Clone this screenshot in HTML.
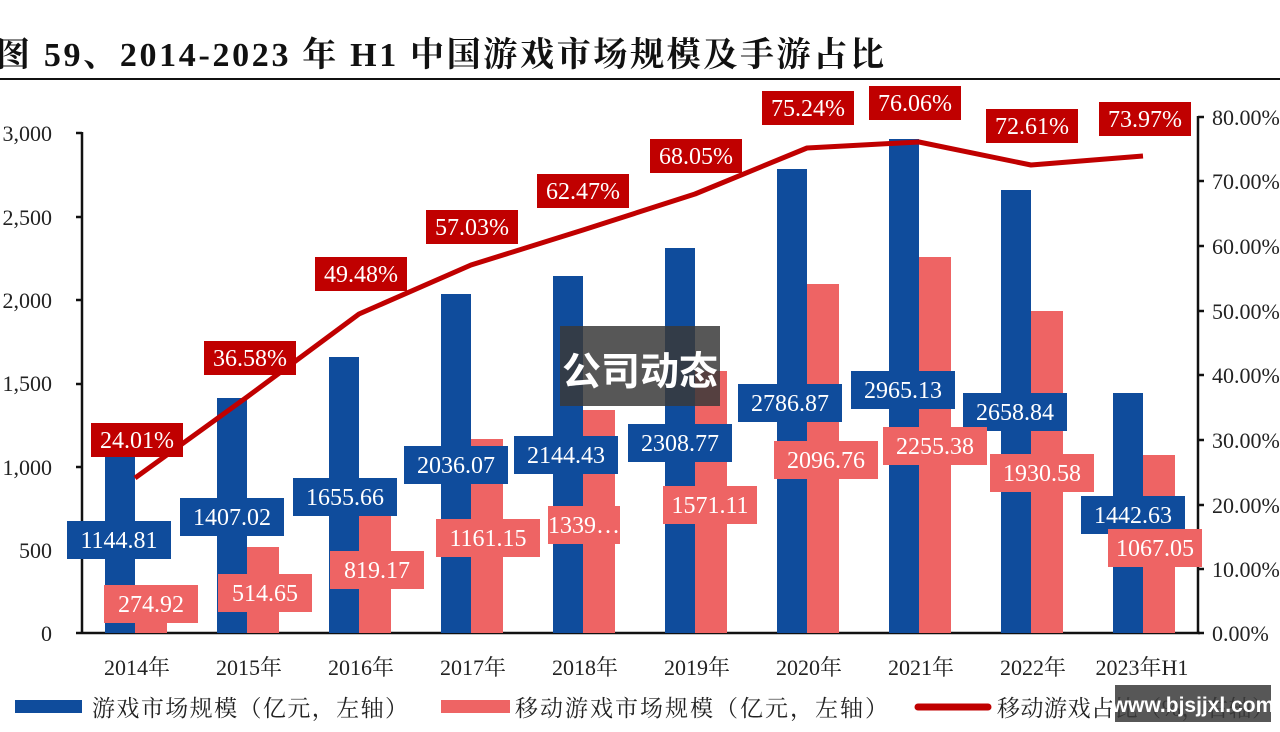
<!DOCTYPE html>
<html><head><meta charset="utf-8"><style>
html,body{margin:0;padding:0;background:#fff;width:1280px;height:732px;overflow:hidden}
svg{display:block}
.s{font-family:"Liberation Serif","Noto Serif CJK SC",serif}
</style></head><body>
<svg width="1280" height="732" viewBox="0 0 1280 732" xmlns="http://www.w3.org/2000/svg">
<text x="-4" y="66" class="s" font-size="34" font-weight="bold" fill="#111" textLength="888" lengthAdjust="spacing">图 59、2014-2023 年 H1 中国游戏市场规模及手游占比</text>
<line x1="0" y1="79" x2="1280" y2="79" stroke="#111" stroke-width="2"/>
<g class="s" font-size="22" fill="#222" text-anchor="end">
<text x="52" y="641">0</text><text x="52" y="558">500</text><text x="52" y="475">1,000</text><text x="52" y="391">1,500</text><text x="52" y="308">2,000</text><text x="52" y="225">2,500</text><text x="52" y="141">3,000</text>
</g>
<g stroke="#111" stroke-width="2.5">
<line x1="82" y1="132" x2="82" y2="634"/>
<line x1="82" y1="633" x2="1200" y2="633"/>
<line x1="1198" y1="116" x2="1198" y2="634"/>
<line x1="76" y1="633" x2="82" y2="633"/><line x1="76" y1="551" x2="82" y2="551"/><line x1="76" y1="467" x2="82" y2="467"/><line x1="76" y1="384" x2="82" y2="384"/><line x1="76" y1="300" x2="82" y2="300"/><line x1="76" y1="217" x2="82" y2="217"/><line x1="76" y1="133" x2="82" y2="133"/>
<line x1="1198" y1="117" x2="1204" y2="117"/><line x1="1198" y1="181" x2="1204" y2="181"/><line x1="1198" y1="246" x2="1204" y2="246"/><line x1="1198" y1="311" x2="1204" y2="311"/><line x1="1198" y1="375" x2="1204" y2="375"/><line x1="1198" y1="440" x2="1204" y2="440"/><line x1="1198" y1="505" x2="1204" y2="505"/><line x1="1198" y1="569" x2="1204" y2="569"/><line x1="1198" y1="633" x2="1204" y2="633"/>
</g>
<g class="s" font-size="22" fill="#222">
<text x="1212" y="125">80.00%</text><text x="1212" y="189">70.00%</text><text x="1212" y="254">60.00%</text><text x="1212" y="319">50.00%</text><text x="1212" y="383">40.00%</text><text x="1212" y="448">30.00%</text><text x="1212" y="513">20.00%</text><text x="1212" y="577">10.00%</text><text x="1212" y="641">0.00%</text>
</g>
<g fill="#0f4c9c">
<rect x="105" y="442" width="30" height="191"/>
<rect x="217" y="398" width="30" height="235"/>
<rect x="329" y="357" width="30" height="276"/>
<rect x="441" y="294" width="30" height="339"/>
<rect x="553" y="276" width="30" height="357"/>
<rect x="665" y="248" width="30" height="385"/>
<rect x="777" y="169" width="30" height="464"/>
<rect x="889" y="139" width="30" height="494"/>
<rect x="1001" y="190" width="30" height="443"/>
<rect x="1113" y="393" width="30" height="240"/>
</g>
<g fill="#ee6464">
<rect x="135" y="587" width="32" height="46"/>
<rect x="247" y="547" width="32" height="86"/>
<rect x="359" y="497" width="32" height="136"/>
<rect x="471" y="439" width="32" height="194"/>
<rect x="583" y="410" width="32" height="223"/>
<rect x="695" y="371" width="32" height="262"/>
<rect x="807" y="284" width="32" height="349"/>
<rect x="919" y="257" width="32" height="376"/>
<rect x="1031" y="311" width="32" height="322"/>
<rect x="1143" y="455" width="32" height="178"/>
</g>
<polyline fill="none" stroke="#c00000" stroke-width="5" stroke-linejoin="round" points="135,478 247,397 359,314 471,265 583,230 695,194 807,148 919,142 1031,165 1143,156"/>
<g fill="#0f4c9c">
<rect x="67" y="521" width="104" height="38"/><rect x="180" y="498" width="104" height="38"/><rect x="293" y="478" width="104" height="38"/><rect x="404" y="446" width="104" height="38"/><rect x="514" y="436" width="104" height="38"/><rect x="628" y="424" width="104" height="38"/><rect x="738" y="384" width="104" height="38"/><rect x="851" y="371" width="104" height="38"/><rect x="963" y="393" width="104" height="38"/><rect x="1081" y="496" width="104" height="38"/>
</g>
<g fill="#ee6464">
<rect x="104" y="585" width="94" height="38"/><rect x="218" y="574" width="94" height="38"/><rect x="330" y="551" width="94" height="38"/><rect x="436" y="519" width="104" height="38"/><rect x="548" y="506" width="72" height="38"/><rect x="663" y="486" width="94" height="38"/><rect x="774" y="441" width="104" height="38"/><rect x="883" y="427" width="104" height="38"/><rect x="990" y="454" width="104" height="38"/><rect x="1108" y="529" width="94" height="38"/>
</g>
<g fill="#c00000">
<rect x="91" y="423" width="92" height="34"/><rect x="204" y="341" width="92" height="34"/><rect x="315" y="257" width="92" height="34"/><rect x="426" y="210" width="92" height="34"/><rect x="537" y="174" width="92" height="34"/><rect x="650" y="139" width="92" height="34"/><rect x="762" y="91" width="92" height="34"/><rect x="869" y="86" width="92" height="34"/><rect x="986" y="109" width="92" height="34"/><rect x="1099" y="102" width="92" height="34"/>
</g>
<g class="s" font-size="24" fill="#fff" text-anchor="middle">
<text x="119" y="548">1144.81</text><text x="232" y="525">1407.02</text><text x="345" y="505">1655.66</text><text x="456" y="473">2036.07</text><text x="566" y="463">2144.43</text><text x="680" y="451">2308.77</text><text x="790" y="411">2786.87</text><text x="903" y="398">2965.13</text><text x="1015" y="420">2658.84</text><text x="1133" y="523">1442.63</text>
<text x="151" y="612">274.92</text><text x="265" y="601">514.65</text><text x="377" y="578">819.17</text><text x="488" y="546">1161.15</text><text x="584" y="533">1339…</text><text x="710" y="513">1571.11</text><text x="826" y="468">2096.76</text><text x="935" y="454">2255.38</text><text x="1042" y="481">1930.58</text><text x="1155" y="556">1067.05</text>
<text x="137" y="448">24.01%</text><text x="250" y="366">36.58%</text><text x="361" y="282">49.48%</text><text x="472" y="235">57.03%</text><text x="583" y="199">62.47%</text><text x="696" y="164">68.05%</text><text x="808" y="116">75.24%</text><text x="915" y="111">76.06%</text><text x="1032" y="134">72.61%</text><text x="1145" y="127">73.97%</text>
</g>
<g class="s" font-size="22" fill="#222" text-anchor="middle">
<text x="137" y="675">2014年</text><text x="249" y="675">2015年</text><text x="361" y="675">2016年</text><text x="473" y="675">2017年</text><text x="585" y="675">2018年</text><text x="697" y="675">2019年</text><text x="809" y="675">2020年</text><text x="921" y="675">2021年</text><text x="1033" y="675">2022年</text><text x="1142" y="675">2023年H1</text>
</g>
<rect x="15" y="700" width="67" height="13" fill="#0f4c9c"/>
<text x="92" y="716" class="s" font-size="23" fill="#222" textLength="316" lengthAdjust="spacing">游戏市场规模（亿元，左轴）</text>
<rect x="441" y="700" width="69" height="13" fill="#ee6464"/>
<text x="515" y="716" class="s" font-size="23" fill="#222" textLength="373" lengthAdjust="spacing">移动游戏市场规模（亿元，左轴）</text>
<line x1="918" y1="707" x2="988" y2="707" stroke="#c00000" stroke-width="7" stroke-linecap="round"/>
<text x="997" y="716" class="s" font-size="23" fill="#222" textLength="278" lengthAdjust="spacing">移动游戏占比（%，右轴）</text>
<rect x="560" y="326" width="160" height="80" fill="#3a3a3a" fill-opacity="0.85"/>
<text x="640" y="385" text-anchor="middle" font-family="'Noto Sans CJK SC',sans-serif" font-weight="bold" font-size="39" fill="#fff">公司动态</text>
<rect x="1115" y="685" width="156" height="37" fill="#3a3a3a" fill-opacity="0.85"/>
<text x="1193" y="712" text-anchor="middle" font-family="'Liberation Sans',sans-serif" font-weight="bold" font-size="21" fill="#fff">www.bjsjjxl.com</text>
</svg>
</body></html>
